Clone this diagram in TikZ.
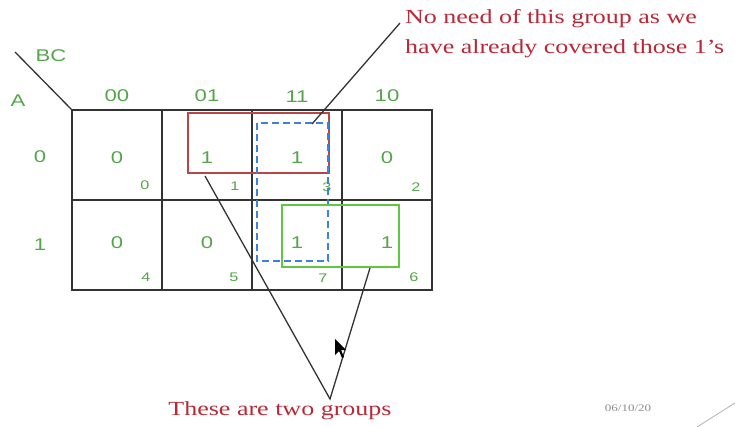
\documentclass[tikz,border=0pt]{standalone}
\usepackage{fontspec}
\setmainfont{Liberation Serif}[FakeStretch=1.3]
\newfontfamily\arialf{Liberation Sans}[FakeStretch=1.3]
\definecolor{kgreen}{RGB}{85,165,75}
\definecolor{kred}{RGB}{185,40,55}
\definecolor{grpred}{RGB}{185,70,70}
\definecolor{grpblue}{RGB}{60,130,220}
\definecolor{grpgreen}{RGB}{95,200,65}
\begin{document}
\begin{tikzpicture}[x=1pt,y=-1pt,
  lbl/.style={font=\arialf\fontsize{17}{17}\selectfont,text=kgreen,inner sep=0},
  idx/.style={font=\arialf\fontsize{12.5}{12.5}\selectfont,text=kgreen,inner sep=0},
  note/.style={font=\fontsize{20}{30}\selectfont,text=kred,inner sep=0,align=left},
  gridl/.style={draw=black!80,line width=1.6pt},
  lead/.style={draw=black!80,line width=1.3pt}]
\useasboundingbox (0,0) rectangle (735,427);
% grid
\draw[gridl] (72,110) rectangle (432,290);
\foreach \x in {162,252,342} \draw[gridl] (\x,110) -- (\x,290);
\draw[gridl] (72,200) -- (432,200);
\coordinate (corner) at (72,110);
\coordinate (diagend) at (15,52);
\draw[lead] (diagend) -- (corner);
% headers
\node[lbl] (bc) at (51,56) {BC};
\node[lbl] (a) at (18,101) {A};
\node[lbl] (h00) at (117,96) {00};
\node[lbl] (h01) at (207,96) {01};
\node[lbl] (h11) at (297,97) {11};
\node[lbl] (h10) at (387,96) {10};
\node[lbl] (r0) at (40,157) {0};
\node[lbl] (r1) at (40,245) {1};
% values
\node[lbl] (v0) at (117,158) {0};
\node[lbl] (v1) at (207,158) {1};
\node[lbl] (v3) at (297,158) {1};
\node[lbl] (v2) at (387,158) {0};
\node[lbl] (v4) at (117,243) {0};
\node[lbl] (v5) at (207,243) {0};
\node[lbl] (v7) at (297,243) {1};
\node[lbl] (v6) at (387,243) {1};
% indices
\node[idx] (i0) at (145,185) {0};
\node[idx] (i1) at (235,186) {1};
\node[idx] (i3) at (327,187) {3};
\node[idx] (i2) at (416,187) {2};
\node[idx] (i4) at (146,277) {4};
\node[idx] (i5) at (234,277) {5};
\node[idx] (i7) at (323,278) {7};
\node[idx] (i6) at (414,277) {6};
% groups
\draw[draw=grpred,line width=1.8pt] (188,113) rectangle (329,173);
\draw[draw=grpblue,line width=2pt,dash pattern=on 7pt off 4pt] (257,123) rectangle (328,261);
\draw[draw=grpgreen,line width=2.4pt] (282,205) rectangle (399,267);
% notes
\node[note,anchor=north west] (top) at (405,9) {No need of this group as we\\have already covered those 1's};
\node[note] (bot) at (280,411) {These are two groups};
\node[font=\fontsize{10}{10}\selectfont,text=black!45,inner sep=0] (date) at (628,408) {06/10/20};
% leaders
\coordinate (tA) at (312,124);
\coordinate (tB) at (400,23);
\draw[lead] (tA) -- (tB);
\coordinate (gA) at (205,176);
\coordinate (apex) at (330,399);
\coordinate (gB) at (370,268);
\draw[lead] (gA) -- (apex) -- (gB);
% deco line bottom right
\coordinate (d1) at (697,427);
\coordinate (d2) at (735,403);
\draw[black!30,line width=0.8pt] (d1) -- (d2);
% cursor
\fill[black] (335,339) -- (335,355) -- (339,351) -- (342,358) -- (344,357) -- (341,350) -- (346,350) -- cycle;
\end{tikzpicture}
\end{document}
